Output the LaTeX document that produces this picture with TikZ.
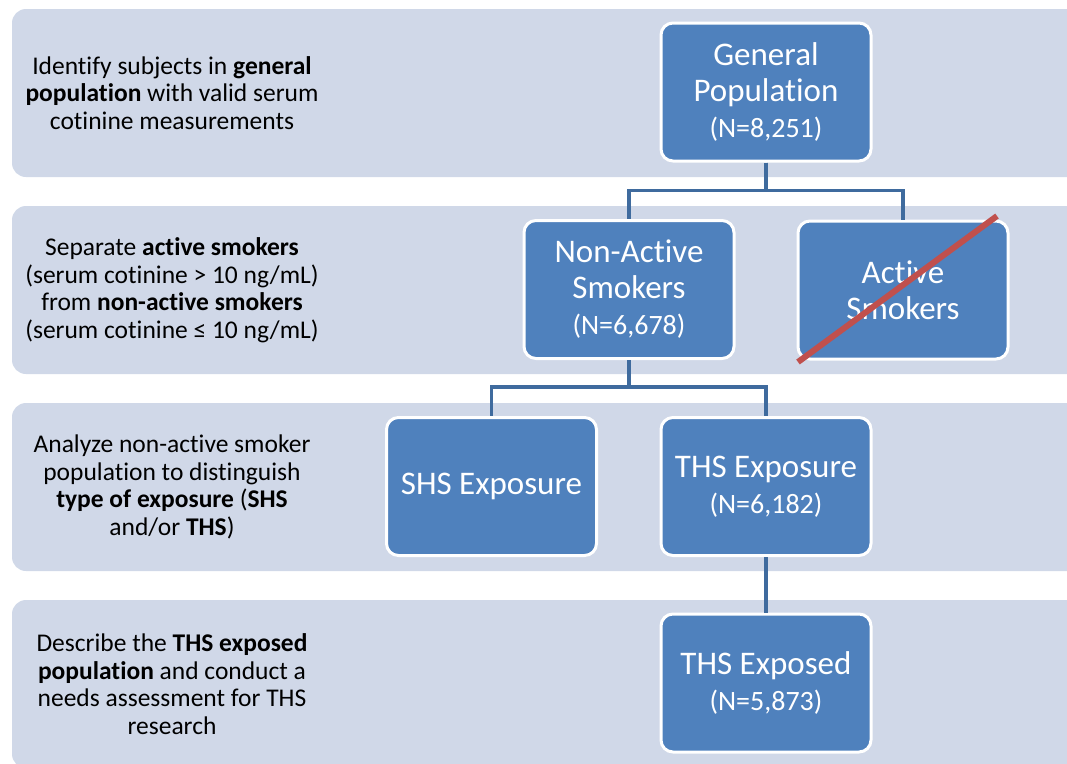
\documentclass[tikz,border=0pt]{standalone}
\usepackage{fontspec}
\setmainfont{Carlito}[Ligatures={NoCommon,NoContextual}, Contextuals=NoAlternate]
\definecolor{bandc}{HTML}{D0D8E8}
\definecolor{boxc}{HTML}{4F81BD}
\definecolor{connc}{HTML}{3F6B9E}
\definecolor{crossc}{HTML}{C0504D}
\tikzset{
  band/.style={fill=bandc, rounded corners=14pt},
  stepbox/.style={draw=white, line width=3pt, fill=boxc, rounded corners=12pt,
    minimum width=210pt, minimum height=138pt, text=white, align=center,
    font=\fontsize{33}{36}\selectfont, inner sep=2pt},
  lefttext/.style={align=center, text=black, font=\fontsize{25.5}{27.5}\selectfont},
  conn/.style={draw=connc, line width=3.2pt},
  cross/.style={draw=crossc, line width=6pt},
}
\newcommand{\sml}[1]{{\fontsize{28}{34}\selectfont #1}}
\begin{document}
\begin{tikzpicture}[x=1pt,y=-1pt]
\useasboundingbox (0,0) rectangle (1067,763);
\clip (0,0) rectangle (1067,763);
\fill[band] (12,9) rectangle (1090,177);
\fill[band] (12,206) rectangle (1090,374);
\fill[band] (12,403) rectangle (1090,571);
\fill[band] (12,600) rectangle (1090,768);

\node[lefttext] (t1) at (172,93) {Identify subjects in \textbf{general}\\\textbf{population} with valid serum\\cotinine measurements};
\node[lefttext] (t2) at (172,290) {Separate \textbf{active smokers}\\(serum cotinine > 10 ng/mL)\\from \textbf{non-active smokers}\\(serum cotinine ≤ 10 ng/mL)};
\node[lefttext] (t3) at (172,487) {Analyze non-active smoker\\population to distinguish\\\textbf{type of exposure} (\textbf{SHS}\\and/or \textbf{THS})};
\node[lefttext] (t4) at (172,684) {Describe the \textbf{THS exposed}\\\textbf{population} and conduct a\\needs assessment for THS\\research};

\node[stepbox] (gp) at (766,92) {General\\Population\\\sml{(N=8,251)}};
\node[stepbox] (nas) at (629,289.5) {Non-Active\\Smokers\\\sml{(N=6,678)}};
\node[stepbox] (as) at (903,290) {Active\\Smokers};
\node[stepbox] (shs) at (491.5,486.5) {SHS Exposure};
\node[stepbox] (ths) at (766,486.5) {THS Exposure\\\sml{(N=6,182)}};
\node[stepbox] (thd) at (766,683) {THS Exposed\\\sml{(N=5,873)}};

\draw[conn] (gp.south) -- ++(0,28) -| (nas.north);
\draw[conn] (gp.south) -- ++(0,28) -| (as.north);
\draw[conn] (nas.south) -- ++(0,27) -| (shs.north);
\draw[conn] (nas.south) -- ++(0,27) -| (ths.north);
\draw[conn] (ths.south) -- (thd.north);

\coordinate (xa) at (798,362);
\coordinate (xb) at (997,216);
\draw[cross] (xa) -- (xb);
\end{tikzpicture}
\end{document}
